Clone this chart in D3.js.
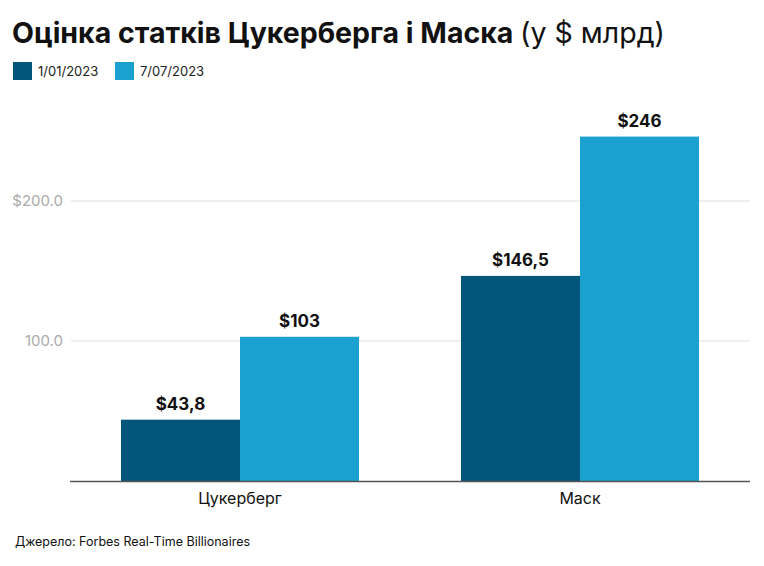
<!DOCTYPE html>
<html>
<head>
<meta charset="utf-8">
<script src="https://cdn.jsdelivr.net/npm/d3@7"></script>
<style>
  body { margin: 0; background: #fff; }
  svg { display: block; font-family: Inter, Roboto, "Noto Sans", sans-serif; }
</style>
</head>
<body>
<svg id="chart"></svg>
<script>
var width = 764, height = 566

var people = ["Цукерберг", "Маск"]
var dates = ["1/01/2023", "7/07/2023"]
var values = [[43.8, 103], [146.5, 246]]
var valueLabels = [["$43,8", "$103"], ["$146,5", "$246"]]
var ticks = [0, 100, 200]
var tickLabels = ["", "100.0", "$200.0"]
var colours = ["#02557b", "#1aa1cf"]

var svg = d3.select("#chart")
    .attr("width", width)
    .attr("height", height)

var margin = {left: 70, right: 14, top: 100, bottom: 85}

var x = d3.scaleBand()
    .domain(people)
    .range([margin.left, width - margin.right])
    .paddingInner(0.3)
    .paddingOuter(0.15)

var xs = d3.scaleBand()
    .domain(dates)
    .range([0, x.bandwidth()])

var y = d3.scaleLinear()
    .domain([0, 100])
    .range([481, 341])

// title
var title = svg.append("text")
    .attr("x", 12)
    .attr("y", 43)
    .attr("font-size", 28.5)
    .attr("fill", "#111")
title.append("tspan").attr("font-weight", 700).text("Оцінка статків Цукерберга і Маска ")
title.append("tspan").attr("font-weight", 400).text("(у $ млрд)")

// legend
var legend = svg.append("g")
var lx = [13, 115]
dates.forEach(function(d, i) {
    legend.append("rect")
        .attr("x", lx[i]).attr("y", 62)
        .attr("width", 19).attr("height", 18)
        .attr("fill", colours[i])
    legend.append("text")
        .attr("x", lx[i] + 25).attr("y", 76)
        .attr("font-size", 13)
        .attr("fill", "#222")
        .text(d)
})

// grid
var grid = svg.append("g")
ticks.slice(1).forEach(function(t, i) {
    grid.append("line")
        .attr("x1", margin.left + 1).attr("x2", width - margin.right)
        .attr("y1", y(t)).attr("y2", y(t))
        .attr("stroke", "#dedede")
        .attr("stroke-width", 1)
    grid.append("text")
        .attr("x", 63).attr("y", y(t) + 5)
        .attr("text-anchor", "end")
        .attr("font-size", 15)
        .attr("fill", "#aaa")
        .text(tickLabels[i + 1])
})

// bars
var groups = svg.append("g")
    .selectAll("g")
    .data(people)
    .enter()
    .append("g")
        .attr("transform", d => "translate(" + x(d) + ",0)")

groups.each(function(p, pi) {
    var g = d3.select(this)
    dates.forEach(function(d, i) {
        g.append("rect")
            .attr("x", xs(d))
            .attr("y", y(values[pi][i]))
            .attr("width", xs.bandwidth())
            .attr("height", y(0) - y(values[pi][i]))
            .attr("fill", colours[i])
        g.append("text")
            .attr("x", xs(d) + xs.bandwidth() / 2)
            .attr("y", y(values[pi][i]) - 10)
            .attr("text-anchor", "middle")
            .attr("font-size", 17)
            .attr("font-weight", 700)
            .attr("fill", "#111")
            .text(valueLabels[pi][i])
    })
})

// axis baseline
svg.append("line")
    .attr("x1", margin.left).attr("x2", width - margin.right)
    .attr("y1", y(0) + 0.5).attr("y2", y(0) + 0.5)
    .attr("stroke", "#555")
    .attr("stroke-width", 1.5)

// category labels
svg.append("g")
    .selectAll("text")
    .data(people)
    .enter()
    .append("text")
        .attr("x", d => x(d) + x.bandwidth() / 2)
        .attr("y", 504)
        .attr("text-anchor", "middle")
        .attr("font-size", 16)
        .attr("fill", "#111")
        .text(d => d)

// source
svg.append("text")
    .attr("x", 15)
    .attr("y", 546)
    .attr("font-size", 12.5)
    .attr("fill", "#111")
    .text("Джерело: Forbes Real-Time Billionaires")
</script>
</body>
</html>
